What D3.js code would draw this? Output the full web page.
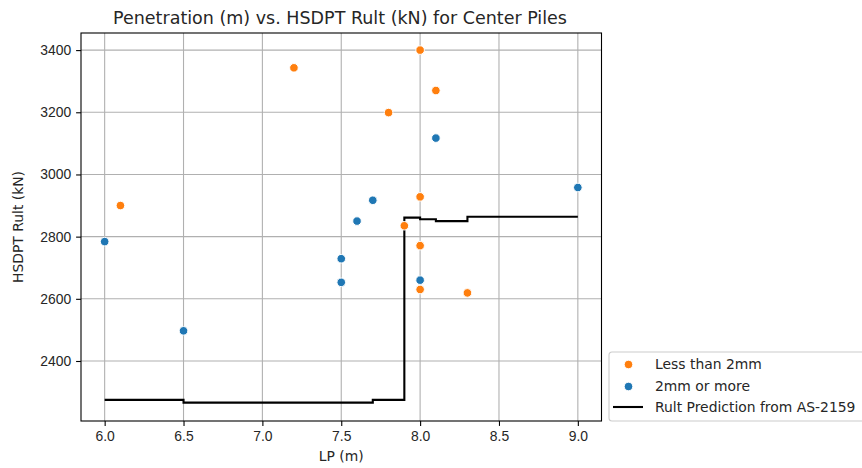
<!DOCTYPE html>
<html>
<head>
<meta charset="utf-8">
<script src="https://cdn.jsdelivr.net/npm/d3@7"></script>
<style>
    body { margin: 0; background: #fff; }
    svg { display: block; font-family: "DejaVu Sans", sans-serif; }
    .tick text { font-size: 13.9px; fill: #262626; }
    .grid line { stroke: #b0b0b0; stroke-width: 1.1; }
</style>
</head>
<body>
<div id="chart"></div>
<script>
// Scatter groups (LP in m, HSDPT Rult in kN)
const lessX = [6.1, 7.2, 7.8, 7.9, 8.0, 8.0, 8.0, 8.0, 8.1, 8.3];
const lessY = [2900, 3343, 3199, 2835, 3400, 2928, 2771, 2630, 3270, 2619];
const moreX = [6.0, 6.5, 7.5, 7.5, 7.6, 7.7, 8.0, 8.1, 9.0];
const moreY = [2784, 2497, 2729, 2653, 2850, 2917, 2660, 3117, 2958];

// Predicted Rult (step line)
const predX = [6.0, 6.5, 7.7, 7.9, 8.0, 8.1, 8.3, 9.0];
const predY = [2275, 2266, 2275, 2861, 2856, 2850, 2864, 2864];

const xTicks = [6.0, 6.5, 7.0, 7.5, 8.0, 8.5, 9.0];
const yTicks = [2400, 2600, 2800, 3000, 3200, 3400];

const legendLabels = ["Less than 2mm", "2mm or more", "Rult Prediction from AS-2159"];
const orange = "#ff7f0e", blue = "#1f77b4";

const W = 862, H = 468;
const plot = { left: 81, right: 601.5, top: 33, bottom: 421 };

const svg = d3.select("#chart").append("svg")
    .attr("width", W).attr("height", H);

const x = d3.scaleLinear().domain([5.85, 9.15]).range([plot.left, plot.right]);
const y = d3.scaleLinear().domain([2207, 3455]).range([plot.bottom, plot.top]);

// grid
svg.append("g").attr("class", "grid")
    .selectAll("line.v").data(xTicks).join("line")
    .attr("x1", d => x(d)).attr("x2", d => x(d))
    .attr("y1", plot.top).attr("y2", plot.bottom);
svg.append("g").attr("class", "grid")
    .selectAll("line.h").data(yTicks).join("line")
    .attr("x1", plot.left).attr("x2", plot.right)
    .attr("y1", d => y(d)).attr("y2", d => y(d));

// axes
const xAxis = d3.axisBottom(x).tickValues(xTicks).tickFormat(d3.format(".1f"))
    .tickSize(4.9).tickPadding(4.9);
const yAxis = d3.axisLeft(y).tickValues(yTicks).tickFormat(d3.format("d"))
    .tickSize(4.9).tickPadding(4.9);

svg.append("g").attr("transform", `translate(0,${plot.bottom})`).call(xAxis)
    .call(g => g.select(".domain").remove())
    .call(g => g.selectAll(".tick line").attr("stroke", "#000").attr("stroke-width", 1.1))
    .call(g => g.selectAll(".tick text").attr("dy", "0.71em"));
svg.append("g").attr("transform", `translate(${plot.left},0)`).call(yAxis)
    .call(g => g.select(".domain").remove())
    .call(g => g.selectAll(".tick line").attr("stroke", "#000").attr("stroke-width", 1.1));

// step prediction line
const line = d3.line().curve(d3.curveStepAfter).x(d => x(d[0])).y(d => y(d[1]));
svg.append("path")
    .datum(d3.zip(predX, predY))
    .attr("d", line)
    .attr("fill", "none").attr("stroke", "#000").attr("stroke-width", 2.1);

// scatter
function dots(xs, ys, color) {
    svg.append("g").selectAll("circle").data(d3.zip(xs, ys)).join("circle")
        .attr("cx", d => x(d[0])).attr("cy", d => y(d[1])).attr("r", 4.3)
        .attr("fill", color).attr("stroke", "#fff").attr("stroke-width", 1);
}
dots(lessX, lessY, orange);
dots(moreX, moreY, blue);

// frame
svg.append("rect")
    .attr("x", plot.left).attr("y", plot.top)
    .attr("width", plot.right - plot.left).attr("height", plot.bottom - plot.top)
    .attr("fill", "none").attr("stroke", "#000").attr("stroke-width", 1.1);

// title and labels
svg.append("text")
    .attr("x", 340).attr("y", 23.5)
    .attr("text-anchor", "middle").attr("font-size", 17.5).attr("fill", "#262626")
    .text("Penetration (m) vs. HSDPT Rult (kN) for Center Piles");
svg.append("text")
    .attr("x", (plot.left + plot.right) / 2).attr("y", 461)
    .attr("text-anchor", "middle").attr("font-size", 13.9).attr("fill", "#262626")
    .text("LP (m)");
svg.append("text")
    .attr("transform", `translate(23,${(plot.top + plot.bottom) / 2}) rotate(-90)`)
    .attr("text-anchor", "middle").attr("font-size", 13.9).attr("fill", "#262626")
    .text("HSDPT Rult (kN)");

// legend
const lg = svg.append("g").attr("transform", "translate(609,352)");
lg.append("rect").attr("width", 300).attr("height", 69).attr("rx", 3)
    .attr("fill", "#fff").attr("fill-opacity", 0.8)
    .attr("stroke", "#cccccc").attr("stroke-width", 1.1);
const rowsY = [12.5, 34.5, 55];
lg.append("circle").attr("cx", 19.5).attr("cy", rowsY[0]).attr("r", 4.3).attr("fill", orange)
    .attr("stroke", "#fff").attr("stroke-width", 1);
lg.append("circle").attr("cx", 19.5).attr("cy", rowsY[1]).attr("r", 4.3).attr("fill", blue)
    .attr("stroke", "#fff").attr("stroke-width", 1);
lg.append("line").attr("x1", 4).attr("x2", 34).attr("y1", rowsY[2]).attr("y2", rowsY[2])
    .attr("stroke", "#000").attr("stroke-width", 2.1);
lg.selectAll("text.lab").data(legendLabels).join("text")
    .attr("x", 46).attr("y", (d, i) => rowsY[i]).attr("dy", "0.35em")
    .attr("font-size", 13.9).attr("fill", "#262626")
    .text(d => d);
</script>
</body>
</html>
